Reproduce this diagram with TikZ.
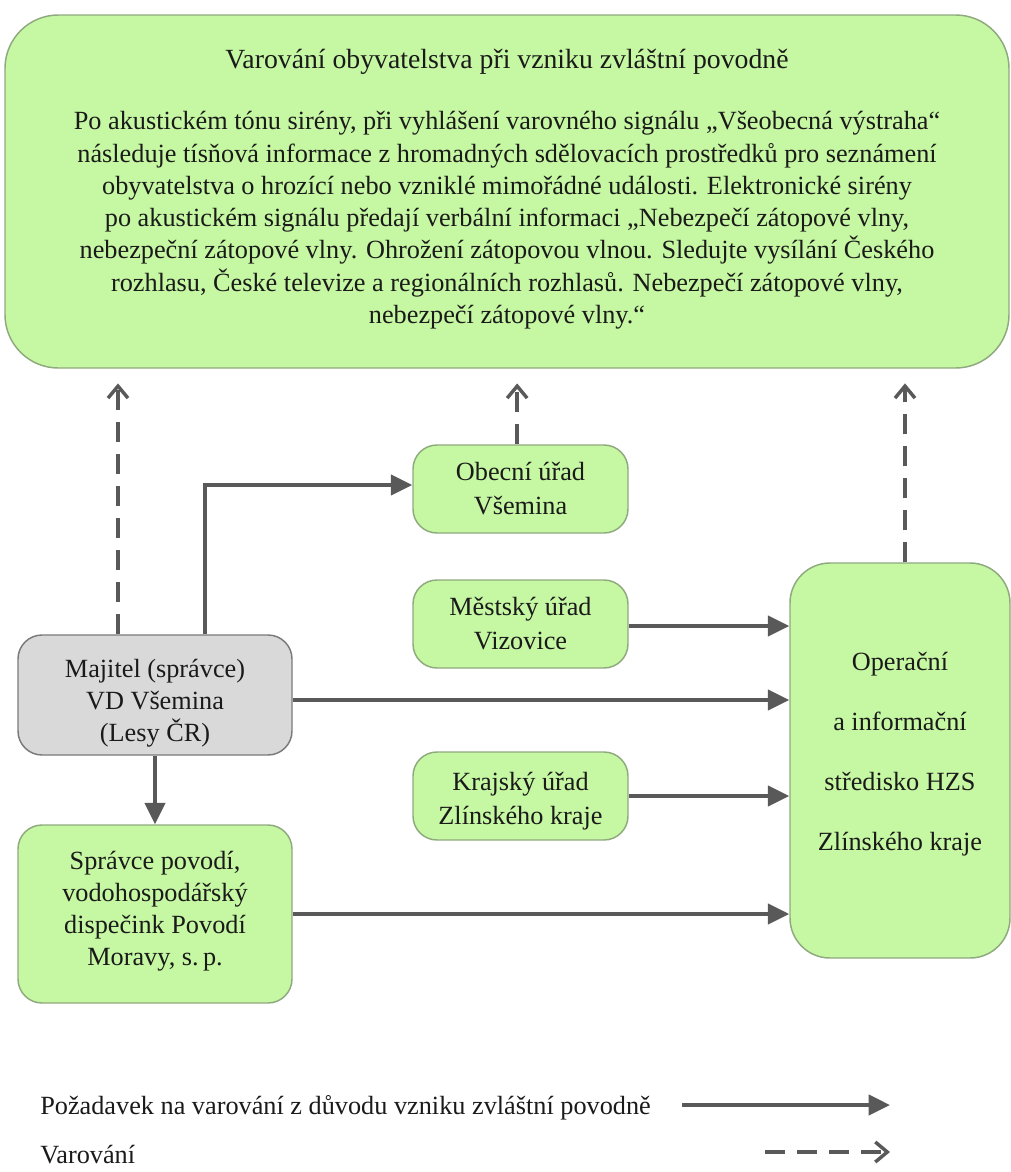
\documentclass[tikz,border=0pt]{standalone}
\usepackage{fontspec}
\setmainfont{Liberation Serif}
\usetikzlibrary{arrows.meta,positioning}

\definecolor{boxgreen}{HTML}{C6F7A2}
\definecolor{boxedge}{HTML}{8FAA7E}
\definecolor{boxgray}{HTML}{D9D9D9}
\definecolor{grayedge}{HTML}{7A7A7A}
\definecolor{arrowgray}{HTML}{595959}
\definecolor{inktext}{HTML}{1A1A1A}

\tikzset{
  px/.style={x=0.75pt,y=-0.75pt},
  greenbox/.style={draw=boxedge,fill=boxgreen,line width=1.1pt,rounded corners=18pt,
    align=center,text=inktext,inner sep=0pt,font=\fontsize{19.7}{25.5}\selectfont},
  graybox/.style={greenbox,draw=grayedge,fill=boxgray},
  req/.style={draw=arrowgray,line width=3pt,-{Triangle[length=16pt,width=15pt]}},
  warn/.style={draw=arrowgray,line width=3pt,dash pattern=on 15pt off 9pt,
    -{Straight Barb[length=9pt,width=15pt,line width=2.6pt]}},
  legendtext/.style={anchor=west,text=inktext,inner sep=0pt,font=\fontsize{19.7}{24}\selectfont}
}

\begin{document}
\begin{tikzpicture}[px]
\useasboundingbox (0,0) rectangle (1011,1172);

% warning box at the top
\node[greenbox,rounded corners=40pt,minimum width=753pt,minimum height=264.75pt,
      font=\fontsize{19.7}{24.2}\selectfont] (top) at (507,191.5)
 {{\fontsize{20.8}{24.2}\selectfont Varování obyvatelstva při vzniku zvláštní povodně}\\[22pt]
  Po akustickém tónu sirény, při vyhlášení varovného signálu „Všeobecná výstraha“\\
  následuje tísňová informace z hromadných sdělovacích prostředků pro seznámení\\
  obyvatelstva o hrozící nebo vzniklé mimořádné události. Elektronické sirény\\
  po akustickém signálu předají verbální informaci „Nebezpečí zátopové vlny,\\
  nebezpeční zátopové vlny. Ohrožení zátopovou vlnou. Sledujte vysílání Českého\\
  rozhlasu, České televize a regionálních rozhlasů. Nebezpečí zátopové vlny,\\
  nebezpečí zátopové vlny.“\rule[-8pt]{0pt}{0pt}};

% authorities
\node[greenbox,minimum width=161.25pt,minimum height=66pt] (obec) at (520.5,489)
 {Obecní úřad\\Všemina};
\node[greenbox,minimum width=161.25pt,minimum height=66pt] (mest) at (520.5,624)
 {Městský úřad\\Vizovice};
\node[greenbox,minimum width=161.25pt,minimum height=66pt] (kraj) at (520.5,796)
 {\rule{0pt}{21pt}Krajský úřad\\Zlínského kraje};

% dam owner and river basin manager
\node[graybox,minimum width=205.5pt,minimum height=90pt,
      font=\fontsize{19.7}{24}\selectfont] (maj) at (155,695)
 {\rule{0pt}{26pt}Majitel (správce)\\VD Všemina\\(Lesy ČR)};
\node[greenbox,minimum width=205.5pt,minimum height=133.5pt,
      font=\fontsize{19.7}{24}\selectfont] (sprav) at (155,914)
 {Správce povodí,\\vodohospodářský\\dispečink Povodí\\Moravy, s.\,p.\rule[-9pt]{0pt}{0pt}};

% fire rescue operations centre
\node[greenbox,rounded corners=30pt,minimum width=165pt,minimum height=296.25pt,
      font=\fontsize{19.7}{45}\selectfont] (oper) at (900,760.5)
 {Operační\\a informační\\středisko HZS\\Zlínského kraje\rule[-13pt]{0pt}{0pt}};

% warning connectors
\draw[warn,shorten >=11pt] ([xshift=-27.75pt]maj.north) -- ([xshift=-27.75pt]maj.north |- top.south);
\draw[warn,shorten >=11pt] ([xshift=-2.5pt]obec.north) -- ([xshift=-2.5pt]obec.north |- top.south);
\draw[warn,shorten >=11pt] ([xshift=3.75pt]oper.north) -- ([xshift=3.75pt]oper.north |- top.south);

% request connectors
\draw[req] ([xshift=37.5pt]maj.north) |- ([yshift=3pt]obec.west);
\draw[req] ([yshift=-1.5pt]mest.east) -- ([yshift=-1.5pt]mest.east -| oper.west);
\draw[req] ([yshift=-3.75pt]maj.east) -- ([yshift=-3.75pt]maj.east -| oper.west);
\draw[req] (kraj.east) -- (kraj.east -| oper.west);
\draw[req] (maj.south) -- (sprav.north);
\draw[req] (sprav.east) -- (sprav.east -| oper.west);

% legend
\node[legendtext] (leg1) at (40,1108) {Požadavek na varování z důvodu vzniku zvláštní povodně};
\node[legendtext] (leg2) at (40,1155) {Varování};
\coordinate (l1a) at (682,1105);
\coordinate (l1b) at (890,1105);
\coordinate (l2a) at (765,1152);
\coordinate (l2b) at (890,1152);
\draw[req] (l1a) -- (l1b);
\draw[warn] (l2a) -- (l2b);
\end{tikzpicture}
\end{document}
